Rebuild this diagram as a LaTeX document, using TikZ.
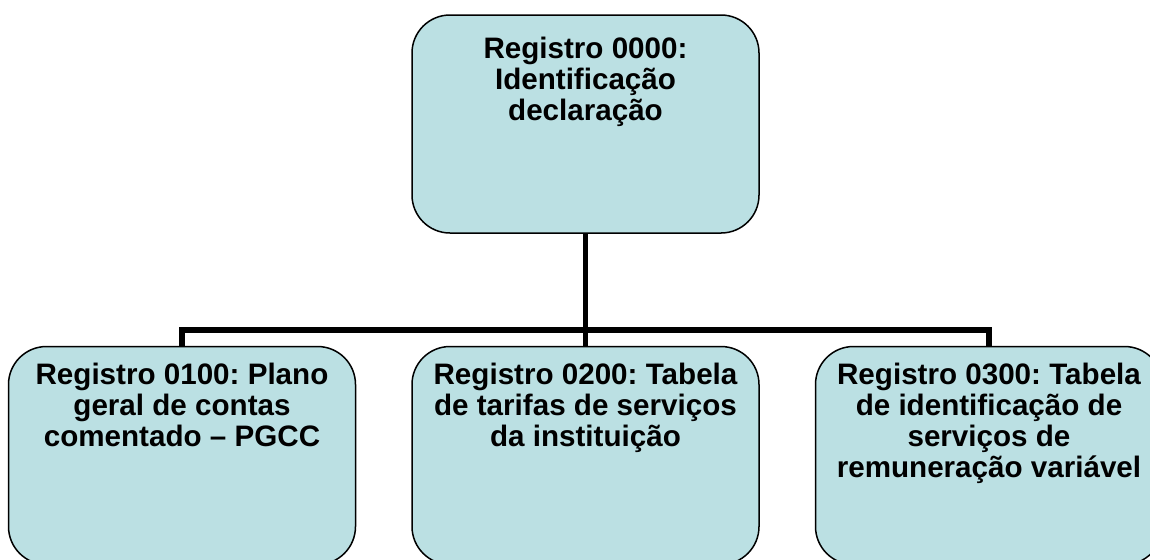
\documentclass[tikz,border=0pt]{standalone}
\usepackage{fontspec}
\setmainfont{Liberation Sans}
\usepackage{xcolor}
\definecolor{regfill}{RGB}{187,224,227}
\usetikzlibrary{positioning}
\frenchspacing

\begin{document}
\begin{tikzpicture}[
    x=0.5pt, y=-0.5pt,
    node distance=56pt and 27.5pt,
    reg/.style={draw, fill=regfill, rounded corners=19pt, line width=0.75pt, minimum width=173.5pt, minimum height=109pt, inner sep=0pt},
    regtext/.style={align=center, font=\bfseries\fontsize{14.8}{15.5}\selectfont, inner sep=0pt},
    link/.style={line width=2.8pt}
]
\useasboundingbox (0,0) rectangle (1150,559);
\clip (0,0) rectangle (1150,559);

\node[reg] (r0000) at (585.5,124) {};
\node[reg, below=of r0000] (r0200) {};
\node[reg, left=of r0200] (r0100) {};
\node[reg, right=of r0200] (r0300) {};

\node[regtext, below=11pt of r0000.north] (t0000) {Registro 0000:\\Identificação\\declaração};
\node[regtext, below=8.5pt of r0100.north] (t0100) {Registro 0100: Plano\\geral de contas\\comentado – PGCC};
\node[regtext, below=8.5pt of r0200.north] (t0200) {Registro 0200: Tabela\\de tarifas de serviços\\da instituição};
\node[regtext, below=8.5pt of r0300.north] (t0300) {Registro 0300: Tabela\\de identificação de\\serviços de\\remuneração variável};

\coordinate (bus) at (585.5,330);
\draw[link] (r0000) -- (r0200);
\draw[link] (r0100.north) |- (bus) -| (r0300.north);

\end{tikzpicture}
\end{document}
